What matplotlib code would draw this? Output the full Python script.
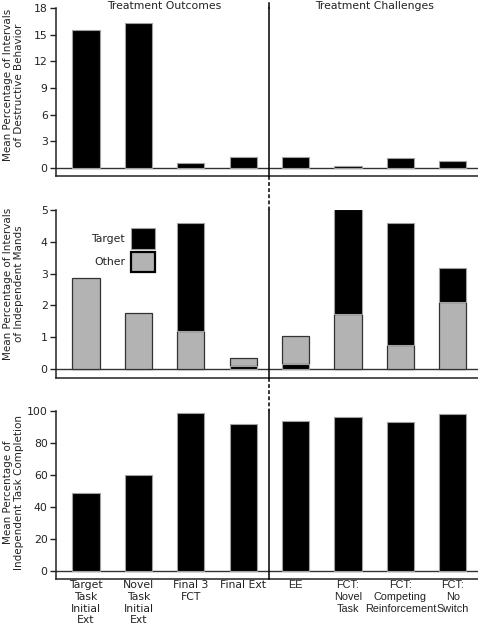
import matplotlib
matplotlib.use("Agg")
import matplotlib.pyplot as plt
from matplotlib.patches import Rectangle
from matplotlib.lines import Line2D
import matplotlib.transforms as mtransforms

# ---- data ----
categories = ["Target\nTask\nInitial\nExt", "Novel\nTask\nInitial\nExt", "Final 3\nFCT", "Final Ext",
              "EE", "FCT:\nNovel\nTask", "FCT:\nCompeting\nReinforcement", "FCT:\nNo\nSwitch"]
destructive = [15.55, 16.3, 0.5, 1.17, 1.17, 0.19, 1.06, 0.79]
mands_target = [0.0, 0.0, 3.38, 0.08, 0.16, 3.30, 3.84, 1.08]
mands_other = [2.85, 1.75, 1.20, 0.27, 0.87, 1.72, 0.74, 2.09]
target_on_bottom = [False, False, False, True, True, False, False, False]
task_completion = [48.5, 59.7, 98.7, 91.9, 93.9, 96.2, 92.9, 98.1]
group_titles = ["Treatment Outcomes", "Treatment Challenges"]
ylabels = ["Mean Percentage of Intervals\nof Destructive Behavior",
           "Mean Percentage of Intervals\nof Independent Mands",
           "Mean Percentage of\nIndependent Task Completion"]
yticks_top = [0, 3, 6, 9, 12, 15, 18]
yticks_mid = [0, 1, 2, 3, 4, 5]
yticks_bot = [0, 20, 40, 60, 80, 100]

W, H = 478, 629
fig = plt.figure(figsize=(W / 100, H / 100), dpi=100)
FS = 7.8
TXT = "#222222"

def ax_at(top_px, bot_px):
    return fig.add_axes([56 / W, 1 - bot_px / H, (W - 56) / W, (bot_px - top_px) / H])

ax1 = ax_at(8.3, 176)
ax2 = ax_at(210, 377.7)
ax3 = ax_at(411, 579)
axes = [ax1, ax2, ax3]

x = list(range(len(categories)))
bw = 0.52
BLACK_EDGE = "#a0a0a0"
GRAY = "#b3b3b3"
GRAY_EDGE = "#333333"

ax1.bar(x, destructive, width=bw, color="black", edgecolor=BLACK_EDGE, linewidth=0.8, zorder=3)
ax1.set_ylim(-0.94, 18)
ax1.set_yticks(yticks_top)

bottoms_other = [t if b else 0 for t, b in zip(mands_target, target_on_bottom)]
bottoms_target = [0 if b else o for o, b in zip(mands_other, target_on_bottom)]
ax2.bar(x, mands_other, width=bw, bottom=bottoms_other, color=GRAY, edgecolor=GRAY_EDGE,
        linewidth=0.9, zorder=3)
ax2.bar(x, mands_target, width=bw, bottom=bottoms_target, color="black", edgecolor=BLACK_EDGE,
        linewidth=[0.8 if v > 0 else 0 for v in mands_target], zorder=3)
ax2.set_ylim(-0.28, 5)
ax2.set_yticks(yticks_mid)

ax3.bar(x, task_completion, width=bw, color="black", edgecolor=BLACK_EDGE, linewidth=0.8, zorder=3)
ax3.set_ylim(-5.2, 100)
ax3.set_yticks(yticks_bot)

for ax in axes:
    ax.set_xlim(-0.573, 7.48)
    ax.spines["top"].set_visible(False)
    ax.spines["right"].set_visible(False)
    for s in ("left", "bottom"):
        ax.spines[s].set_color("#222222")
        ax.spines[s].set_linewidth(1.1)
    ax.axhline(0, color="#333333", lw=1.0, zorder=2)
    ax.tick_params(axis="y", direction="out", length=4, width=1, color="#222222",
                   labelsize=FS, labelcolor=TXT, pad=2)
    ax.tick_params(axis="x", length=0)
    ax.set_xticks(x)
    ax.set_xticklabels([])
    ax.patch.set_visible(False)
    ax.axvline(3.5, color="black", lw=1.1, zorder=4, ymin=0, ymax=1, clip_on=False)

# extend top solid segment slightly above top axis
ax1.axvline(3.5, color="black", lw=1.1, ymin=1, ymax=1 + 5.3 / 167.7, clip_on=False)

# dashed connectors between panels
tr = mtransforms.blended_transform_factory(ax1.transData, fig.transFigure)
for y0, y1 in [(176, 210), (377.7, 411)]:
    fig.add_artist(Line2D([3.5, 3.5], [1 - y0 / H, 1 - y1 / H], transform=tr, color="black",
                          lw=1.1, linestyle=(0, (2.5, 1.5))))

# x tick labels on bottom panel
ax3.set_xticklabels(categories)
for i, lbl in enumerate(ax3.get_xticklabels()):
    lbl.set_fontsize(FS)
    lbl.set_color(TXT)
    lbl.set_va("top")
    lbl.set_ha("center")
    lbl.set_multialignment("center")
    if i >= 4:
        lbl.set_family(["Liberation Sans", "DejaVu Sans"])
        lbl.set_fontsize(7.8)
ax3.tick_params(axis="x", pad=1)

# group titles
trt = mtransforms.blended_transform_factory(ax1.transData, fig.transFigure)
ax1.text(1.5, 1 - 8.8 / H, group_titles[0], transform=trt, ha="center", va="baseline",
         fontsize=FS, color=TXT)
ax1.text(5.5, 1 - 8.8 / H, group_titles[1], transform=trt, ha="center", va="baseline",
         fontsize=FS, color=TXT)

# y labels
for lab, yc in zip(ylabels, [85, 284, 492]):
    fig.text(13.5 / W, 1 - yc / H, lab, rotation=90, ha="center", va="center",
             fontsize=7.5, color=TXT, multialignment="center")

# legend in middle panel
ax2.add_patch(Rectangle((0.178, 0.767), 0.057, 0.124, transform=ax2.transAxes,
                        facecolor="black", edgecolor=BLACK_EDGE, lw=0.8, clip_on=False, zorder=5))
ax2.add_patch(Rectangle((0.178, 0.629), 0.057, 0.119, transform=ax2.transAxes,
                        facecolor=GRAY, edgecolor="black", lw=1.6, clip_on=False, zorder=5))
ax2.text(0.1635, 0.829, "Target", transform=ax2.transAxes, ha="right", va="center",
         fontsize=FS, color=TXT)
ax2.text(0.1635, 0.688, "Other", transform=ax2.transAxes, ha="right", va="center",
         fontsize=FS, color=TXT)

fig.savefig("out.png", dpi=100)
